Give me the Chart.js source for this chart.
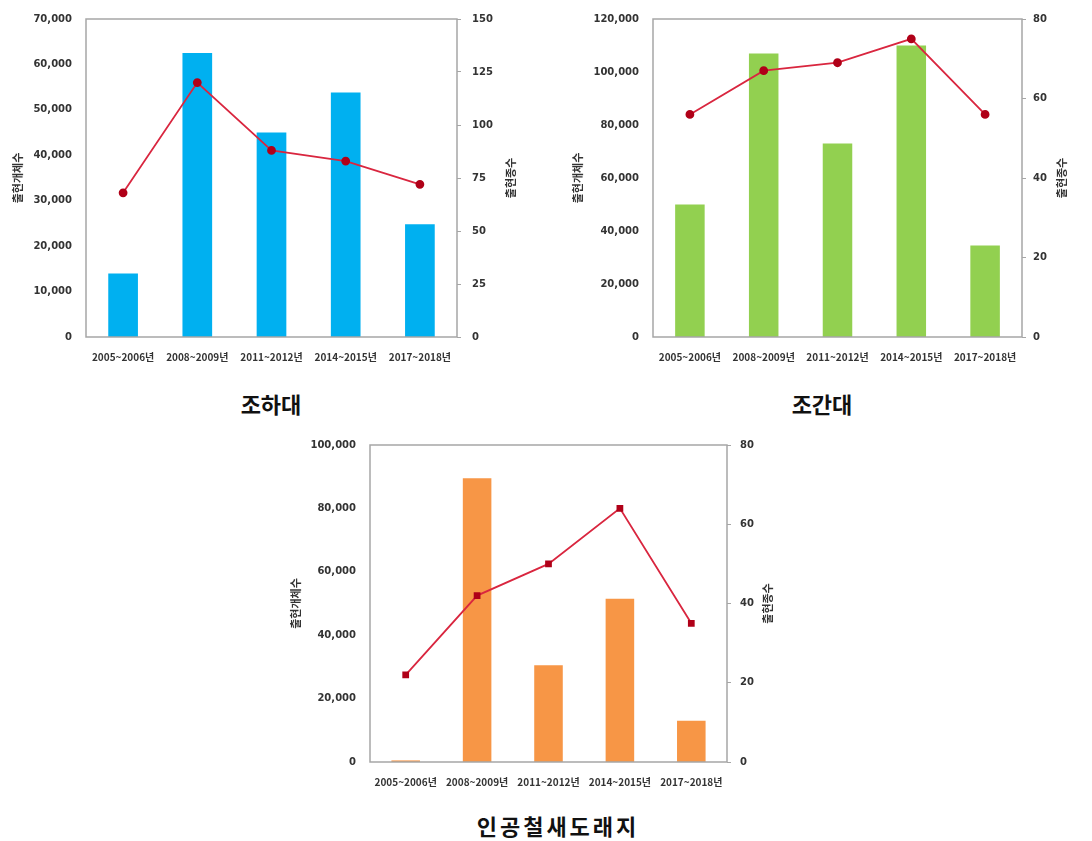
<!DOCTYPE html>
<html>
<head>
<meta charset="utf-8">
<script src="https://cdn.jsdelivr.net/npm/chart.js@4.4.1/dist/chart.umd.min.js"></script>
<style>
  body { margin: 0; background: #fff; width: 1092px; height: 841px; position: relative; overflow: hidden; }
  .panel { position: absolute; }
  .caption {
    position: absolute;
    font-family: 'Noto Sans CJK KR', sans-serif;
    font-weight: bold;
    font-size: 22px;
    color: #111;
    transform: translate(-50%, -50%);
    white-space: nowrap;
  }
</style>
</head>
<body>
<div class="panel" style="left:0;top:0;width:545px;height:375px"><canvas id="c1"></canvas></div>
<div class="panel" style="left:545px;top:0;width:547px;height:375px"><canvas id="c2"></canvas></div>
<div class="panel" style="left:270px;top:430px;width:540px;height:375px"><canvas id="c3"></canvas></div>
<div class="caption" style="left:271px;top:403px">조하대</div>
<div class="caption" style="left:822px;top:403px">조간대</div>
<div class="caption" style="left:558px;top:825px;letter-spacing:3px">인공철새도래지</div>
<script>
const periods = ['2005~2006년', '2008~2009년', '2011~2012년', '2014~2015년', '2017~2018년'];

const subtidalCounts = [14000, 62500, 45000, 53800, 24800];
const subtidalSpecies = [68, 120, 88, 83, 72];

const intertidalCounts = [50000, 107000, 73000, 110000, 34500];
const intertidalSpecies = [56, 67, 69, 75, 56];

const wetlandCounts = [500, 89500, 30500, 51500, 13000];
const wetlandSpecies = [22, 42, 50, 64, 35];

const countLabel = '출현개체수';
const speciesLabel = '출현종수';

const FONT = "'Noto Sans CJK KR', 'Noto Sans', sans-serif";
const NUM_FONT = "'DejaVu Sans', sans-serif";

// frame around the plot area and the right-hand title read bottom-to-top
const framePlugin = {
  id: 'frame',
  afterDraw(chart, _args, opts) {
    const { ctx, chartArea } = chart;
    ctx.save();
    ctx.strokeStyle = '#a6a6a6';
    ctx.lineWidth = 1.5;
    ctx.strokeRect(chartArea.left, chartArea.top, chartArea.right - chartArea.left, chartArea.bottom - chartArea.top);
    ctx.fillStyle = '#333';
    ctx.font = `bold 11px ${FONT}`;
    ctx.textAlign = 'center';
    ctx.textBaseline = 'middle';
    const cy = (chartArea.top + chartArea.bottom) / 2;
    ctx.translate(opts.rightTitleX, cy);
    ctx.rotate(-Math.PI / 2);
    ctx.fillText(speciesLabel, 0, 0);
    ctx.restore();
  },
};

function makeChart(id, cfg) {
  const fit = (w) => (scale) => { scale.width = w; };
  return new Chart(document.getElementById(id), {
    data: {
      labels: periods,
      datasets: [
        {
          type: 'line',
          data: cfg.species,
          yAxisID: 'y1',
          borderColor: '#d9263f',
          borderWidth: 1.8,
          pointBackgroundColor: '#b00018',
          pointBorderColor: '#b00018',
          pointStyle: cfg.pointStyle,
          pointRadius: 3.5,
          order: 0,
        },
        {
          type: 'bar',
          data: cfg.counts,
          yAxisID: 'y',
          backgroundColor: cfg.color,
          barPercentage: 0.4,
          categoryPercentage: 1,
          order: 1,
        },
      ],
    },
    options: {
      responsive: false,
      animation: false,
      layout: { padding: { top: cfg.padTop, right: 0, bottom: 0, left: 0 } },
      plugins: {
        legend: { display: false },
        tooltip: { enabled: false },
        frame: { rightTitleX: cfg.rightTitleX },
      },
      scales: {
        x: {
          grid: { display: false },
          border: { display: false },
          ticks: {
            color: '#333',
            font: { family: FONT, size: 10, weight: 'bold' },
            maxRotation: 0,
            autoSkip: false,
            padding: 6,
          },
          afterFit(scale) { scale.height = cfg.xHeight; },
        },
        y: {
          position: 'left',
          min: 0,
          max: cfg.countMax,
          grid: { display: false },
          border: { display: false },
          ticks: {
            stepSize: cfg.countStep,
            color: '#333',
            padding: 6,
            font: { family: NUM_FONT, size: 10, weight: 'bold' },
            callback: (v) => Number(v).toLocaleString('en-US'),
          },
          title: {
            display: true,
            text: countLabel,
            color: '#333',
            font: { family: FONT, size: 11, weight: 'bold' },
            padding: { top: cfg.leftTitlePad, bottom: 0 },
          },
          afterFit: fit(cfg.leftWidth),
        },
        y1: {
          position: 'right',
          min: 0,
          max: cfg.speciesMax,
          grid: { display: true, drawOnChartArea: false, color: '#a6a6a6', tickLength: 4 },
          border: { display: false },
          ticks: {
            stepSize: cfg.speciesStep,
            color: '#333',
            padding: cfg.rightPad,
            font: { family: NUM_FONT, size: 10, weight: 'bold' },
          },
          afterFit: fit(cfg.rightWidth),
        },
      },
    },
    plugins: [framePlugin],
  });
}

function sizeCanvas(id, w, h) {
  const c = document.getElementById(id);
  c.width = w; c.height = h;
  c.style.width = w + 'px'; c.style.height = h + 'px';
}

sizeCanvas('c1', 545, 375);
sizeCanvas('c2', 547, 375);
sizeCanvas('c3', 540, 375);

makeChart('c1', {
  counts: subtidalCounts, species: subtidalSpecies, color: '#00b0f0', pointStyle: 'circle',
  countMax: 70000, countStep: 10000, speciesMax: 150, speciesStep: 25,
  padTop: 19, xHeight: 38, leftWidth: 86, rightWidth: 88, rightTitleX: 511, leftTitlePad: 11, rightPad: 11,
});

makeChart('c2', {
  counts: intertidalCounts, species: intertidalSpecies, color: '#92d050', pointStyle: 'circle',
  countMax: 120000, countStep: 20000, speciesMax: 80, speciesStep: 20,
  padTop: 19, xHeight: 38, leftWidth: 108, rightWidth: 70, rightTitleX: 517, leftTitlePad: 26, rightPad: 7,
});

makeChart('c3', {
  counts: wetlandCounts, species: wetlandSpecies, color: '#f79646', pointStyle: 'rect',
  countMax: 100000, countStep: 20000, speciesMax: 80, speciesStep: 20,
  padTop: 15, xHeight: 43, leftWidth: 100, rightWidth: 83, rightTitleX: 498, leftTitlePad: 19, rightPad: 9,
});
</script>
</body>
</html>
